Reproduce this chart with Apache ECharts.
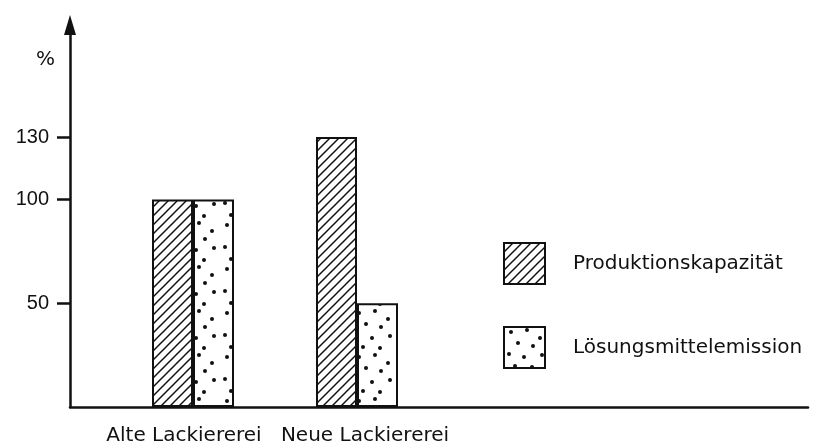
<!DOCTYPE html>
<html>
<head>
<meta charset="utf-8">
<script src="https://cdn.jsdelivr.net/npm/echarts@6/dist/echarts.min.js"></script>
<style>
  html, body { margin: 0; padding: 0; background: #fff; }
  #chart { width: 828px; height: 446px; }
</style>
</head>
<body>
<div id="chart"></div>
<script>
// Werte aus der Vorlage (%), leere Kategorien halten nur den Abstand
const categories = ["", "Alte Lackiererei", "", "Neue Lackiererei", "", "", "", "", ""];
const produktion = [null, 100, null, 130, null, null, null, null, null];
const emission = [null, 100, null, 50, null, null, null, null, null];
const yTicks = [50, 100, 130];

// Schraffur "/" als Kachel
function hatch() {
  const s = 9, c = document.createElement("canvas");
  c.width = s; c.height = s;
  const g = c.getContext("2d");
  g.fillStyle = "#fff"; g.fillRect(0, 0, s, s);
  g.strokeStyle = "#111"; g.lineWidth = 1.5;
  [-s, 0, s].forEach(o => {
    g.beginPath(); g.moveTo(o - 1, s + 1); g.lineTo(o + s + 1, -1); g.stroke();
  });
  return c;
}

// Punktraster (feste, unregelmäßige Lage)
function dots() {
  const s = 44, c = document.createElement("canvas");
  c.width = s; c.height = s;
  const g = c.getContext("2d");
  g.fillStyle = "#fff"; g.fillRect(0, 0, s, s);
  g.fillStyle = "#111";
  const pts = [[7, 5], [23, 3], [36, 11], [14, 16], [29, 19], [5, 27],
               [20, 30], [38, 28], [11, 39], [28, 40]];
  pts.forEach(p => { g.beginPath(); g.arc(p[0], p[1], 2, 0, Math.PI * 2); g.fill(); });
  return c;
}

const chart = echarts.init(document.getElementById("chart"));
const txt = { color: "#111", fontFamily: "DejaVu Sans", fontSize: 20 };

// Beschriftungen leicht aus der Mitte gerückt wie in der Vorlage
const catData = categories.map((c, i) => ({
  value: c,
  textStyle: { padding: i === 1 ? [0, 18, 0, 0] : i === 3 ? [0, 0, 0, 16] : 0 },
}));

chart.setOption({
  animation: false,
  backgroundColor: "#fff",
  grid: { left: 70, right: 20, top: 25, bottom: 38 },
  legend: {
    orient: "vertical", left: 503, top: 242, padding: 0,
    itemWidth: 41, itemHeight: 41, itemGap: 41,
    icon: "rect",
    textStyle: Object.assign({ padding: [0, 0, 0, 23] }, txt),
    itemStyle: { borderColor: "#111", borderWidth: 2 },
    data: ["Produktionskapazität", "Lösungsmittelemission"],
  },
  xAxis: {
    type: "category", data: catData,
    axisLine: { lineStyle: { color: "#111", width: 2.5 } },
    axisTick: { show: false },
    axisLabel: Object.assign({ margin: 19, interval: 0 }, txt),
  },
  yAxis: {
    type: "value", min: 0, max: 184,
    name: "%", nameLocation: "end", nameGap: -35,
    nameTextStyle: Object.assign({ align: "right", verticalAlign: "middle", padding: [0, 15, 0, 0] }, txt),
    splitLine: { show: false },
    axisLine: {
      show: true, symbol: ["none", "triangle"], symbolSize: [12, 20],
      lineStyle: { color: "#111", width: 2.5 },
    },
    axisTick: { show: true, length: 13, customValues: yTicks, lineStyle: { color: "#111", width: 2.5 } },
    axisLabel: { margin: 21, customValues: yTicks, fontFamily: "Liberation Sans", color: "#111", fontSize: 20 },
  },
  series: [
    {
      name: "Produktionskapazität", type: "bar", data: produktion,
      barWidth: 41, barGap: "0%",
      itemStyle: { color: { image: hatch(), repeat: "repeat" }, borderColor: "#111", borderWidth: 2 },
    },
    {
      name: "Lösungsmittelemission", type: "bar", data: emission,
      barWidth: 41,
      itemStyle: { color: { image: dots(), repeat: "repeat" }, borderColor: "#111", borderWidth: 2 },
    },
  ],
});
</script>
</body>
</html>
